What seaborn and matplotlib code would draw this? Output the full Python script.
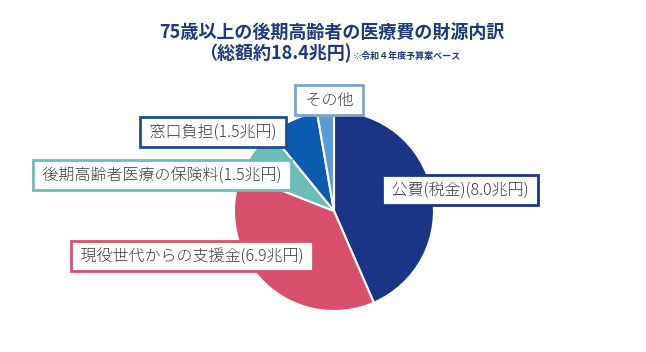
"""
Pie chart: funding sources of medical costs for people aged 75 and over.
"""
import matplotlib
matplotlib.use("Agg")
from matplotlib import pyplot as plt
import seaborn as sns

# Data (trillion yen, FY2022 budget basis)
labels = ["公費(税金)", "現役世代からの支援金", "後期高齢者医療の保険料", "窓口負担", "その他"]
values = [8.0, 6.9, 1.5, 1.5, 0.5]
show_value = [True, True, True, True, False]

colors = ["#1a3585", "#d9506f", "#6cbdb6", "#0b5cb0", "#5b9bd5"]
edge_colors = ["#1a3585", "#d9506f", "#6cbdb6", "#1f4e8c", "#7aa6cc"]
# label box centres in figure pixels (x, y from top)
label_pos = [(460, 190), (192, 256), (162, 175), (213, 132), (329, 100)]

sns.set_style("white")
plt.rcParams["font.family"] = ["Noto Sans CJK JP", "DejaVu Sans"]

W, H = 646, 352
fig = plt.figure(figsize=(W / 100, H / 100), dpi=100)

# Pie axes: centre (334, 211), radius 100 px
cx, cy, r = 334, 211, 100
ax = fig.add_axes([(cx - r) / W, (H - cy - r) / H, 2 * r / W, 2 * r / H])
palette = sns.color_palette(colors)
ax.pie(
    values,
    colors=palette,
    startangle=90,
    counterclock=False,
    wedgeprops=dict(edgecolor="white", linewidth=1.5),
)
ax.set_xlim(-1, 1)
ax.set_ylim(-1, 1)
ax.axis("off")

# Label boxes
for lab, v, show, ec, (px, py) in zip(labels, values, show_value, edge_colors, label_pos):
    txt = f" {lab}({v:.1f}兆円) " if show else f" {lab} "
    fig.text(
        px / W,
        1 - py / H,
        txt,
        ha="center",
        va="center",
        fontsize=11.5,
        weight="light",
        color="#3a3a3a",
        bbox=dict(boxstyle="square,pad=0.38", facecolor="white", edgecolor=ec, linewidth=2),
        zorder=10,
    )

# Title
title_color = "#1d3a7a"
fig.text(
    332 / W, 1 - 32 / H, "75歳以上の後期高齢者の医療費の財源内訳",
    ha="center", va="center", fontsize=13, weight="bold", color=title_color,
)
fig.text(
    352 / W, 1 - 59 / H, "（総額約18.4兆円)",
    ha="right", va="baseline", fontsize=13, weight="bold", color=title_color,
)
fig.text(
    353 / W, 1 - 59 / H, "※令和４年度予算案ベース",
    ha="left", va="baseline", fontsize=6.5, weight="bold", color=title_color,
)

plt.savefig("out.png", dpi=100)
